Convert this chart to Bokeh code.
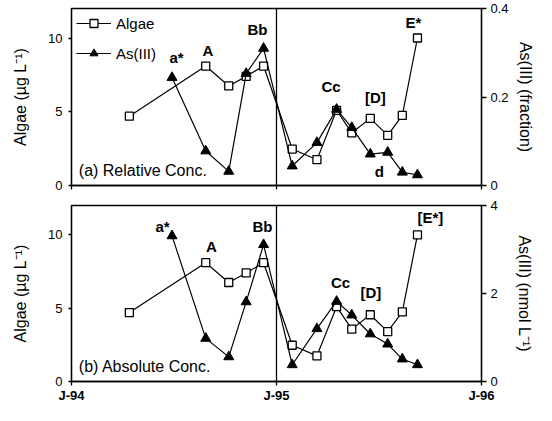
import pandas as pd
from bokeh.plotting import figure
from bokeh.models import Range1d, LinearAxis, FixedTicker, Span, Label, Legend, LegendItem
from bokeh.layouts import column
from bokeh.embed import file_html
from bokeh.resources import INLINE

# ---------------- data ----------------
algae_dates = ["1994-04-14", "1994-08-28", "1994-10-08", "1994-11-08", "1994-12-09",
               "1995-01-29", "1995-03-14", "1995-04-18", "1995-05-15", "1995-06-17",
               "1995-07-18", "1995-08-13", "1995-09-09"]
algae_ug = [4.7, 8.1, 6.75, 7.4, 8.1, 2.47, 1.75, 5.1, 3.57, 4.55, 3.4, 4.75, 10.0]

as_dates = ["1994-06-29", "1994-08-28", "1994-10-08", "1994-11-08", "1994-12-09",
            "1995-01-29", "1995-03-14", "1995-04-18", "1995-05-15", "1995-06-17",
            "1995-07-18", "1995-08-13", "1995-09-09"]
as_fraction = [0.244, 0.078, 0.032, 0.253, 0.310, 0.044, 0.097, 0.172, 0.131, 0.071,
               0.075, 0.030, 0.024]
as_nmol = [3.31, 0.98, 0.56, 1.81, 3.11, 0.38, 1.20, 1.82, 1.51, 1.08, 0.85, 0.51, 0.38]

x_tick_dates = ["1994-01-01", "1995-01-01", "1996-01-01"]
x_tick_labels = ["J-94", "J-95", "J-96"]

algae_ticks = [0, 5, 10]
frac_ticks = [0.0, 0.2, 0.4]
frac_labels = ["0", "0.2", "0.4"]
nmol_ticks = [0, 2, 4]
nmol_labels = ["0", "2", "4"]

ann_a_text = ["a*", "A", "Bb", "Cc", "[D]", "d", "E*"]
ann_a_date = ["1994-07-07", "1994-09-01", "1994-11-28", "1995-04-08", "1995-06-26",
              "1995-07-03", "1995-09-02"]
ann_a_y = [8.7, 9.15, 10.55, 6.7, 6.0, 0.95, 11.05]

ann_b_text = ["a*", "A", "Bb", "Cc", "[D]", "[E*]"]
ann_b_date = ["1994-06-12", "1994-09-07", "1994-12-07", "1995-04-25", "1995-06-18",
              "1995-10-02"]
ann_b_y = [10.6, 9.2, 10.55, 6.75, 6.05, 11.15]

# ---------------- helpers ----------------
origin = pd.Timestamp("1994-01-01")


def days(ds):
    return [float((pd.Timestamp(d) - origin).days) for d in ds]


FONT = "Liberation Sans"
xt = days(x_tick_dates)


def panel(height, top, bottom, as_vals, r_end, r_ticks, r_labels, r_title, r_standoff,
          panel_text, ann_text, ann_date, ann_y, show_x_labels, legend):
    p = figure(width=536, height=height, output_backend="svg", toolbar_location=None,
               x_range=Range1d(xt[0], xt[-1]), y_range=Range1d(0, 12),
               min_border_left=71, min_border_right=51, min_border_top=top,
               min_border_bottom=bottom)
    p.xgrid.visible = False
    p.ygrid.visible = False
    p.outline_line_color = "black"
    p.outline_line_width = 1.3
    p.background_fill_color = "white"

    p.extra_y_ranges = {"as": Range1d(0, r_end)}
    rax = LinearAxis(y_range_name="as")
    p.add_layout(rax, "right")

    # x axis
    xa = p.xaxis[0]
    xa.ticker = FixedTicker(ticks=xt)
    xa.minor_tick_line_color = None
    xa.major_tick_in = 0
    xa.major_tick_out = 4
    if show_x_labels:
        xa.major_label_overrides = {t: l for t, l in zip(xt, x_tick_labels)}
        xa.major_label_text_font = FONT
        xa.major_label_text_font_size = "13px"
        xa.major_label_text_font_style = "bold"
        xa.major_label_text_color = "black"
        xa.major_label_standoff = 2
    else:
        # ticks only, no labels on the upper panel
        xa.major_label_text_color = None
        xa.major_label_text_alpha = 0
        xa.major_label_text_font_size = "1px"
        xa.major_label_standoff = 0

    # left axis
    la = p.yaxis[0]
    la.ticker = FixedTicker(ticks=algae_ticks)
    la.minor_tick_line_color = None
    la.major_tick_in = 0
    la.major_tick_out = 3
    la.major_label_standoff = 6
    la.major_label_text_font = FONT
    la.major_label_text_font_size = "13px"
    la.major_label_text_color = "black"
    la.axis_label = "Algae (µg L⁻¹)"
    la.axis_label_text_font = FONT
    la.axis_label_text_font_size = "16px"
    la.axis_label_text_font_style = "normal"
    la.axis_label_text_color = "black"
    la.axis_label_standoff = 16

    # right axis
    rax.ticker = FixedTicker(ticks=r_ticks)
    rax.major_label_overrides = {t: l for t, l in zip(r_ticks, r_labels)}
    rax.minor_tick_line_color = None
    rax.major_tick_in = 0
    rax.major_tick_out = 5
    rax.major_label_standoff = 4
    rax.major_label_text_font = FONT
    rax.major_label_text_font_size = "13px"
    rax.major_label_text_color = "black"
    rax.axis_label = r_title
    rax.axis_label_text_font = FONT
    rax.axis_label_text_font_size = "16px"
    rax.axis_label_text_font_style = "normal"
    rax.axis_label_text_color = "black"
    rax.axis_label_standoff = r_standoff

    for ax in (xa, la, rax):
        ax.axis_line_color = "black"
        ax.axis_line_width = 1.3
        ax.major_tick_line_color = "black"
        ax.major_tick_line_width = 1.3

    p.add_layout(Span(location=xt[1], dimension="height", line_color="black",
                      line_width=1.3))

    ax_days = days(algae_dates)
    as_days = days(as_dates)
    l1 = p.line(ax_days, algae_ug, line_color="black", line_width=1.2)
    m1 = p.scatter(ax_days, algae_ug, marker="square", size=8, fill_color="white",
                   line_color="black", line_width=1.3)
    l2 = p.line(as_days, as_vals, line_color="black", line_width=1.2, y_range_name="as")
    m2 = p.scatter(as_days, as_vals, marker="triangle", size=10, fill_color="black",
                   line_color="black", line_width=1, y_range_name="as")

    for t, d, y in zip(ann_text, days(ann_date), ann_y):
        p.add_layout(Label(x=d, y=y, text=t, text_font=FONT, text_font_size="15px",
                           text_font_style="bold", text_align="center",
                           text_baseline="middle", text_color="black"))

    p.add_layout(Label(x=13, y=1.0, text=panel_text, text_font=FONT,
                       text_font_size="16px", text_align="left",
                       text_baseline="middle", text_color="black"))

    if legend:
        lg = Legend(items=[LegendItem(label="Algae", renderers=[l1, m1]),
                           LegendItem(label="As(III)", renderers=[l2, m2])],
                    location="top_left", margin=5, padding=6, spacing=10,
                    glyph_width=35, glyph_height=20, label_height=20,
                    label_standoff=5, label_text_font=FONT,
                    label_text_font_size="15px", label_text_color="black",
                    background_fill_alpha=0, border_line_color=None)
        p.add_layout(lg)
    return p


p1 = panel(195, 8, 10, as_fraction, 0.4, frac_ticks, frac_labels,
           "As(III) (fraction)", 5, "(a) Relative Conc.",
           ann_a_text, ann_a_date, ann_a_y, False, True)
p2 = panel(210, 10, 23, as_nmol, 4, nmol_ticks, nmol_labels,
           "As(III) (nmol L⁻¹)", 15, "(b) Absolute Conc.",
           ann_b_text, ann_b_date, ann_b_y, True, False)

layout = column(p1, p2, spacing=0)
open("out.html", "w").write(file_html(layout, INLINE))
